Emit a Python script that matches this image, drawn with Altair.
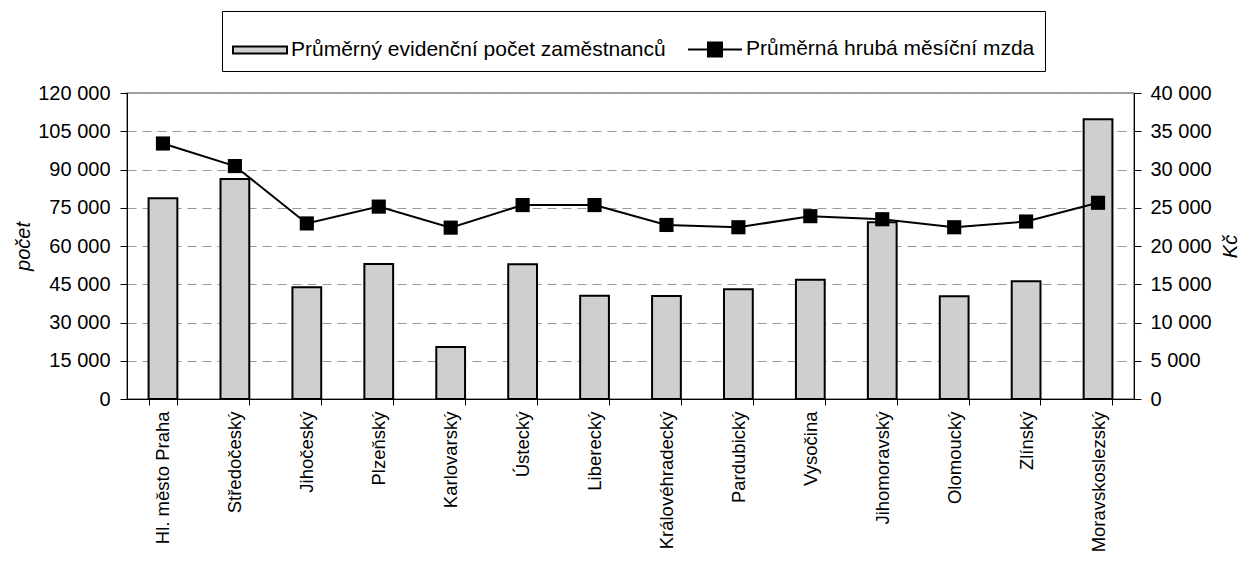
import altair as alt
import pandas as pd

regions = ["Hl. město Praha", "Středočeský", "Jihočeský", "Plzeňský", "Karlovarský",
           "Ústecký", "Liberecký", "Královéhradecký", "Pardubický", "Vysočina",
           "Jihomoravský", "Olomoucký", "Zlínský", "Moravskoslezský"]
employees = [78700, 86300, 43800, 52900, 20400, 52850, 40500, 40400, 43000, 46800,
             69300, 40300, 46150, 109700]
wages = [33400, 30450, 22950, 25150, 22400, 25350, 25350, 22750, 22450, 23900,
         23500, 22450, 23200, 25650]

S1 = "Průměrný evidenční počet zaměstnanců"
S2 = "Průměrná hrubá měsíční mzda"

left_ticks = [0, 15000, 30000, 45000, 60000, 75000, 90000, 105000, 120000]
right_ticks = [0, 5000, 10000, 15000, 20000, 25000, 30000, 35000, 40000]

df = pd.DataFrame({"region": regions, "employees": employees, "wage": wages, "series": S1})

FONT = "Liberation Sans"
fmt = "replace(format(datum.value, ','), ',', ' ')"

P_BAR = "M-1,-0.13H1V0.13H-1Z"
P_LINE = "M-1,0H1M-0.26,-0.26H0.26V0.26H-0.26Z"

x_enc = alt.X("region:N", sort=regions,
              scale=alt.Scale(paddingInner=0.6, paddingOuter=0.3),
              axis=alt.Axis(title=None, labelAngle=270, labelFontSize=18.5, labelPadding=6,
                            tickBand="extent", tickSize=6, tickColor="black",
                            domainColor="black", labelColor="black", labelLimit=300))

bars = alt.Chart(df).mark_bar(stroke="black", strokeWidth=2).encode(
    x=x_enc,
    y=alt.Y("employees:Q", scale=alt.Scale(domain=[0, 120000], nice=False),
            axis=alt.Axis(title="počet", values=left_ticks, labelExpr=fmt,
                          labelFontSize=20, titleFontSize=20, titleFontStyle="italic",
                          titleFontWeight="normal", titlePadding=4, tickSize=7,
                          tickColor="black", domainColor="black", labelPadding=10,
                          grid=True, gridDash=[9, 6], gridColor="#9a9a9a",
                          labelColor="black", titleColor="black")),
    fill=alt.Fill("series:N",
                  scale=alt.Scale(domain=[S1, S2], range=["#cfcfcf", "#000000"]),
                  legend=alt.Legend(
                      title=None, orient="none", legendX=95, legendY=-82,
                      direction="horizontal", labelFontSize=21, labelColor="black",
                      labelLimit=600,
                      symbolSize=2916, labelOffset=3, columnPadding=18,
                      strokeColor="black", padding=10, fillColor="white",
                      symbolType={"expr": f"datum.value === '{S1}' ? '{P_BAR}' : '{P_LINE}'"},
                      symbolStrokeColor="black", symbolStrokeWidth=2, symbolOpacity=1)),
)

line = alt.Chart(df).mark_line(
    color="black", strokeWidth=2,
    point=alt.OverlayMarkDef(shape="square", size=200, filled=True, color="black", opacity=1),
).encode(
    x=alt.X("region:N", sort=regions),
    y=alt.Y("wage:Q", scale=alt.Scale(domain=[0, 40000], nice=False),
            axis=alt.Axis(title="Kč", orient="right", values=right_ticks, labelExpr=fmt,
                          labelFontSize=20, titleFontSize=20, titleFontStyle="italic",
                          titleFontWeight="normal", titleAngle=270, titleBaseline="top",
                          titlePadding=9, tickSize=7, tickColor="black",
                          domainColor="black", labelPadding=9, grid=False,
                          labelColor="black", titleColor="black")),
)

chart = alt.layer(bars, line).resolve_scale(y="independent").properties(
    width=1007, height=306,
    autosize=alt.AutoSizeParams(type="none"),
    padding={"left": 119, "top": 85, "right": 108, "bottom": 160},
).configure(font=FONT).configure_view(stroke="#808080", strokeWidth=1.5)

chart.save("out.html", embed_options={"renderer": "svg", "actions": False})
